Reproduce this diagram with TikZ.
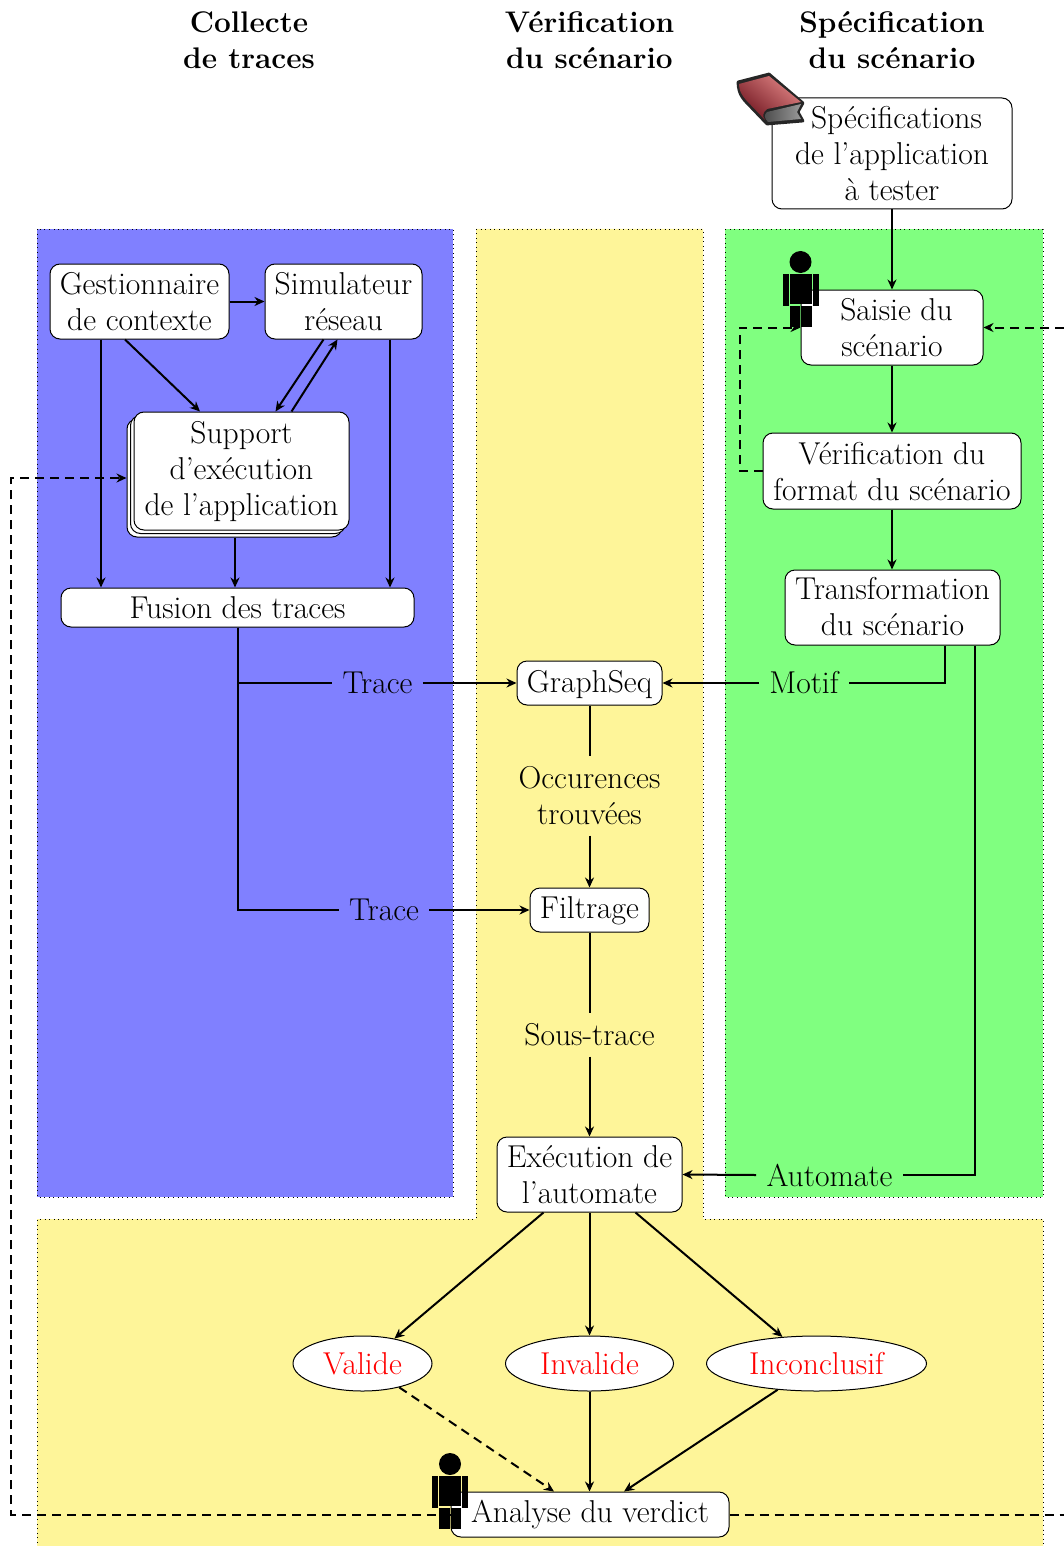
\documentclass[tikz,border=0pt]{standalone}
\usetikzlibrary{arrows.meta, positioning, calc, shadows, shapes.geometric}

\definecolor{jaune}{RGB}{254,245,153}
\definecolor{livreClair}{RGB}{222,130,130}
\definecolor{livreMoyen}{RGB}{165,45,60}
\definecolor{livreFonce}{RGB}{115,25,35}

\tikzset{
	etape/.style={draw, line width=0.5pt, rounded corners=5pt, fill=white, align=center, inner sep=0pt, text depth=0pt},
	verdict/.style={draw, line width=0.5pt, ellipse, fill=white, text=red, inner sep=0pt},
	etiquette/.style={align=center, inner xsep=5pt, inner ysep=5pt},
	titre/.style={align=center, font=\fontsize{14.9}{18}\selectfont\bfseries},
	zone/.style={dotted, line width=0.3pt},
	lien/.style={->, line width=1pt},
	retour/.style={->, line width=1pt, dash pattern=on 4.5pt off 3pt},
	pics/bonhomme/.style={code={
		\fill (0,-32) circle (11);
		\fill (-11,-20) rectangle (11,10);
		\fill (-18,-20) rectangle (-12,12);
		\fill (12,-20) rectangle (18,12);
		\fill (-11,12) rectangle (-0.5,33);
		\fill (0.5,12) rectangle (11,33);
	}}
}

\begin{document}
\begin{tikzpicture}[x=0.5pt, y=-0.5pt, >={Stealth[length=5pt, width=4.5pt, inset=1.6pt]}, font=\fontsize{15.8}{18}\selectfont]
	\useasboundingbox (0,0) rectangle (1064,1546);
	
	% ====== zones ======
	\draw[zone, fill=blue!50] (37,229) rectangle (453,1197);
	\draw[zone, fill=green!50] (725,229) rectangle (1043,1197);
	\draw[zone, fill=jaune] (476,229) -- (703,229) -- (703,1219) -- (1043,1219) -- (1043,1546)
	-- (37,1546) -- (37,1219) -- (476,1219) -- cycle;
	
	% ====== titres ======
	\node[titre] (tCollecte) at (249,40.5) {Collecte\\de traces};
	\node[titre] (tVerif) at (589.5,40.5) {Vérification\\du scénario};
	\node[titre] (tSpec) at (892,40.5) {Spécification\\du scénario};
	
	% ====== specification ======
	\node[etape, minimum width=120pt, minimum height=55.5pt] (spec) at (892,153.5) {\hspace*{4.5pt}Spécifications\\de l'application\\à tester};
	\node[etape, minimum width=91pt, minimum height=37.5pt] (saisie) at (892,327.5) {\hspace*{4.5pt}Saisie du\\scénario};
	\node[etape, minimum width=129pt, minimum height=38pt] (format) at (892,471) {Vérification du\\format du scénario};
	\node[etape, minimum width=107.5pt, minimum height=37.5pt, text depth=1pt] (transfo) at (892.5,607.5) {Transformation\\du scénario};
	
	% ====== collecte ======
	\node[etape, minimum width=89.5pt, minimum height=37.5pt] (gest) at (139.5,301.5) {Gestionnaire\\de contexte};
	\node[etape, minimum width=78.5pt, minimum height=37.5pt] (simu) at (343.5,301.5) {Simulateur\\réseau};
	\node[etape, minimum width=107.5pt, minimum height=59pt, text depth=3pt, double copy shadow={shadow xshift=-1.75pt, shadow yshift=-1.75pt}] (support) at (241.5,471) {Support\\d'exécution\\de l'application};
	\node[etape, minimum width=176.5pt, minimum height=19.5pt] (fusion) at (237.5,607.5) {Fusion des traces};
	
	% ====== verification ======
	\node[etape, minimum width=72.5pt, minimum height=22pt, text depth=2pt] (graphseq) at (589.5,683) {GraphSeq};
	\node[etape, minimum width=59.5pt, minimum height=22pt, text depth=2pt] (filtrage) at (589.5,910) {Filtrage};
	\node[etape, minimum width=92.5pt, minimum height=37.5pt] (execution) at (589.5,1174.5) {Exécution de\\l'automate};
	
	% ====== verdicts ======
	\node[verdict, minimum width=69.5pt, minimum height=27.5pt] (valide) at (362.5,1363.5) {Valide};
	\node[verdict, minimum width=84pt, minimum height=27.5pt] (invalide) at (589.5,1363.5) {Invalide};
	\node[verdict, minimum width=110pt, minimum height=27.5pt] (inconclusif) at (816.5,1363.5) {Inconclusif};
	\node[etape, minimum width=139pt, minimum height=22.5pt, text depth=3pt] (analyse) at (590,1514.5) {Analyse du verdict};
	
	% ====== etiquettes ======
	\node[etiquette] (trace1) at (377.5,683) {Trace};
	\node[etiquette] (trace2) at (384,910) {Trace};
	\node[etiquette] (motif) at (804,683) {Motif};
	\node[etiquette] (automate) at (829.5,1175) {Automate};
	\node[etiquette] (occ) at (589.5,796) {Occurences\\trouvées};
	\node[etiquette] (soustrace) at (589.5,1035) {Sous-trace};
	
	% ====== retours ======
	\coordinate (bordDroit1) at (1064,1514.5);
	\coordinate (bordDroit2) at (1064,327.5);
	\coordinate (bordGauche) at (11,1514.5);
	\draw[retour, -] (analyse.east) -- (bordDroit1);
	\draw[retour] (bordDroit2) -- (saisie.east);
	\draw[retour] (analyse.west) -- (bordGauche) |- ([xshift=-3.5pt, yshift=-3.5pt]support.west);
	\draw[retour] (format.west) -- ++(-23,0) |- (saisie.west);
	
	% ====== liens specification ======
	\draw[lien] (spec.south) -- (saisie.north);
	\draw[lien] (saisie.south) -- (format.north);
	\draw[lien] (format.south) -- (transfo.north -| format.south);
	\draw[lien, -] ([xshift=26.25pt]transfo.south) |- (motif.east);
	\draw[lien] (motif.west) -- (graphseq.east);
	\draw[lien, -] ([xshift=41.25pt]transfo.south) |- (automate.east);
	\draw[lien] (automate.west) -- (execution.east);
	
	% ====== liens collecte ======
	\draw[lien] (gest.east) -- (simu.west);
	\draw[lien] ([xshift=-19.25pt]gest.south) -- ([xshift=-19.25pt]gest.south |- fusion.north);
	\draw[lien] ([xshift=-7.25pt]gest.south) -- ([xshift=-20.75pt]support.north);
	\draw[lien] ([xshift=-10pt]simu.south) -- ([xshift=17pt]support.north);
	\draw[lien] ([xshift=25pt]support.north) -- ([xshift=-3pt]simu.south);
	\draw[lien] ([xshift=23.25pt]simu.south) -- ([xshift=23.25pt]simu.south |- fusion.north);
	\draw[lien] ([xshift=-3.25pt, yshift=-3.5pt]support.south) -- ([xshift=-1.25pt]fusion.north);
	\draw[lien, -] (fusion.south) |- (trace1.west);
	\draw[lien] (trace1.east) -- (graphseq.west);
	\draw[lien, -] (fusion.south) |- (trace2.west);
	\draw[lien] (trace2.east) -- (filtrage.west);
	
	% ====== liens verification ======
	\draw[lien, -] (graphseq.south) -- (occ.north);
	\draw[lien] (occ.south) -- (filtrage.north);
	\draw[lien, -] (filtrage.south) -- (soustrace.north);
	\draw[lien] (soustrace.south) -- (execution.north);
	\draw[lien] ([xshift=-23pt]execution.south) -- (valide.38);
	\draw[lien] (execution.south) -- (invalide.north);
	\draw[lien] ([xshift=23pt]execution.south) -- (inconclusif.142);
	\draw[retour] (valide.-33.5) -- ([xshift=-18pt]analyse.north);
	\draw[lien] (invalide.south) -- (analyse.north -| invalide.south);
	\draw[lien] (inconclusif.-146) -- ([xshift=17pt]analyse.north);
	
	% ====== acteurs ======
	\pic at (800.5,294) {bonhomme};
	\pic at (450,1496) {bonhomme};
	
	% ====== livre ======
	\begin{scope}[line join=round]
		\fill[gray!30!black, draw=gray!30!black, line width=1.4pt] (738,82) -- (769,74) -- (803,103) -- (798,112) -- (803,121) -- (767,124) -- (745,101) .. controls (739,94) and (738,88) .. (738,82) -- cycle;
		\shade[left color=gray!60!black, right color=gray!80] (767,112) -- (801,104) -- (797,112) -- (801,119) -- (768,122) .. controls (764,118) and (764,115) .. (767,112) -- cycle;
		\shade[left color=livreClair, middle color=livreMoyen, right color=livreFonce, shading angle=-40] (739,84) -- (769,76) -- (801,102) -- (767,109) .. controls (763,112) and (762,116) .. (765,120) -- (746,100) .. controls (741,94) and (739,90) .. (739,84) -- cycle;
	\end{scope}
\end{tikzpicture}
\end{document}
